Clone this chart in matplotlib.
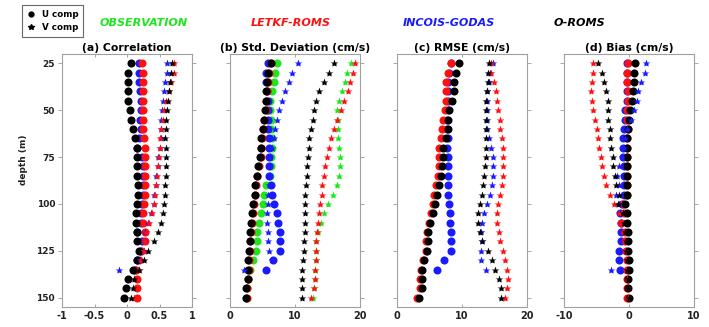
import matplotlib
matplotlib.use("Agg")
import matplotlib.pyplot as plt
from matplotlib.lines import Line2D

depth = list(range(25, 155, 5))          # 26 levels, 25-150 m
depth_godas = list(range(25, 140, 5))    # INCOIS-GODAS stops at 135 m

# (a) correlation
corr_u_letkf = [0.23, 0.24, 0.25, 0.24, 0.24, 0.24, 0.24, 0.24, 0.26, 0.28, 0.28, 0.28, 0.27,
                0.27, 0.27, 0.26, 0.25, 0.25, 0.28, 0.28, 0.21, 0.18, 0.14, 0.15, 0.15, 0.15]
corr_u_godas = [0.18, 0.19, 0.19, 0.20, 0.21, 0.21, 0.20, 0.21, 0.19, 0.16, 0.23, 0.24,
                0.24, 0.24, 0.24, 0.23, 0.22, 0.22, 0.15, 0.23, 0.22, 0.15, 0.12]
corr_u_oroms = [0.06, 0.02, 0.01, 0.01, 0.02, 0.04, 0.06, 0.09, 0.12, 0.15, 0.16, 0.16, 0.16,
                0.17, 0.17, 0.16, 0.14, 0.14, 0.16, 0.16, 0.18, 0.16, 0.09, 0.02, -0.01, -0.05]
corr_v_letkf = [0.73, 0.73, 0.68, 0.65, 0.60, 0.57, 0.56, 0.53, 0.51, 0.51, 0.49, 0.47, 0.46,
                0.45, 0.43, 0.42, 0.38, 0.34, 0.29, 0.28, 0.26, 0.21, 0.18, 0.13, 0.12, 0.11]
corr_v_godas = [0.62, 0.62, 0.59, 0.57, 0.56, 0.54, 0.53, 0.52, 0.52, 0.50, 0.48, 0.47,
                0.45, 0.44, 0.42, 0.41, 0.37, 0.33, 0.28, 0.27, 0.26, 0.20, -0.12]
corr_v_oroms = [0.69, 0.68, 0.66, 0.64, 0.63, 0.61, 0.60, 0.60, 0.59, 0.60, 0.60, 0.60, 0.60,
                0.59, 0.59, 0.57, 0.55, 0.52, 0.47, 0.42, 0.33, 0.26, 0.19, 0.11, 0.09, 0.06]

# (b) standard deviation (cm/s)
std_u_obs = [7.3, 6.9, 6.8, 6.4, 6.1, 6.2, 6.3, 6.3, 6.4, 6.4, 6.3, 6.3, 6.2,
             5.5, 5.2, 5.1, 4.8, 4.5, 4.2, 4.1, 4.0, 3.5, 3.1, 2.7, 2.6, 2.4]
std_u_letkf = [6.3, 6.0, 5.8, 5.7, 5.6, 5.5, 5.3, 5.1, 4.9, 4.8, 4.7, 4.4, 4.2,
               4.0, 3.9, 3.7, 3.5, 3.4, 3.2, 3.1, 3.0, 2.9, 2.9, 2.8, 2.6, 2.6]
std_u_godas = [5.9, 5.6, 5.6, 5.7, 5.8, 5.9, 5.9, 5.9, 6.0, 6.0, 6.0, 6.0,
               6.0, 6.25, 6.4, 6.8, 7.2, 7.4, 7.7, 7.7, 7.7, 6.6, 5.5]
std_u_oroms = [6.25, 5.9, 5.7, 5.6, 5.5, 5.4, 5.2, 5.0, 4.8, 4.7, 4.6, 4.3, 4.1,
               3.9, 3.8, 3.6, 3.4, 3.3, 3.1, 3.0, 2.9, 2.8, 2.8, 2.7, 2.5, 2.5]
std_v_obs = [18.6, 18.0, 17.7, 17.2, 16.7, 16.5, 16.6, 16.6, 16.6, 16.7, 16.9, 16.9, 16.8,
             16.4, 15.8, 15.1, 14.5, 14.0, 13.5, 13.3, 13.2, 13.2, 13.0, 13.0, 12.9, 12.8]
std_v_letkf = [19.2, 18.9, 18.5, 18.1, 17.6, 17.1, 16.5, 16.0, 15.5, 15.3, 14.9, 14.6, 14.5,
               14.2, 14.1, 13.9, 13.7, 13.6, 13.4, 13.3, 13.2, 13.2, 13.0, 13.0, 12.9, 12.5]
std_v_godas = [10.5, 9.5, 9.0, 8.5, 8.0, 7.6, 7.2, 6.9, 6.7, 6.4, 6.2, 6.1,
               6.0, 6.0, 5.9, 5.9, 5.7, 5.7, 5.8, 5.9, 6.0, 6.4, 2.1]
std_v_oroms = [16.0, 15.3, 14.5, 13.7, 13.2, 12.9, 12.7, 12.4, 12.2, 12.1, 12.0, 11.9, 11.8,
               11.7, 11.6, 11.6, 11.5, 11.5, 11.5, 11.35, 11.35, 11.25, 11.1, 11.1, 11.1, 11.0]

# (c) RMSE (cm/s)
rmse_u_letkf = [8.3, 7.8, 7.5, 7.6, 7.6, 7.4, 7.1, 6.9, 6.8, 6.5, 6.4, 6.4, 6.3,
                6.0, 5.7, 5.5, 5.2, 4.9, 4.6, 4.5, 4.4, 4.0, 3.7, 3.6, 3.5, 3.1]
rmse_u_godas = [8.3, 8.0, 7.9, 7.8, 7.8, 7.8, 7.7, 7.7, 7.8, 7.7, 7.8, 7.8,
                7.8, 7.8, 7.8, 8.0, 8.15, 8.15, 8.3, 8.3, 8.3, 7.2, 6.2]
rmse_u_oroms = [9.6, 9.1, 8.8, 8.7, 8.4, 8.05, 7.9, 7.8, 7.5, 7.1, 7.0, 6.9, 6.8,
                6.5, 6.2, 5.85, 5.6, 5.1, 4.8, 4.7, 4.6, 4.2, 3.9, 3.8, 3.8, 3.4]
rmse_v_letkf = [14.4, 14.5, 14.9, 15.2, 15.4, 15.6, 15.8, 15.9, 16.1, 16.3, 16.3, 16.3, 16.3,
                16.1, 15.9, 15.6, 15.4, 15.4, 15.7, 15.8, 16.3, 16.6, 16.9, 17.0, 16.9, 16.6]
rmse_v_godas = [14.7, 14.3, 14.2, 13.9, 13.9, 13.9, 13.9, 13.9, 14.2, 14.5, 14.7, 14.8,
                14.8, 14.6, 14.3, 13.8, 13.4, 13.1, 12.9, 13.0, 12.9, 12.9, 13.7]
rmse_v_oroms = [14.2, 14.05, 14.05, 13.8, 13.7, 13.7, 13.7, 13.7, 13.7, 13.7, 13.7, 13.5, 13.4,
                13.2, 13.0, 12.8, 12.4, 12.4, 12.8, 13.1, 14.0, 14.6, 15.1, 15.7, 16.0, 16.0]

# (d) bias (cm/s)
bias_u_letkf = [-0.1, -0.25, -0.25, -0.1, -0.1, -0.35, -0.25, -0.2, -0.25, -0.25, -0.3, -0.3, -0.3,
                -0.3, -0.3, -0.9, -0.8, -1.2, -0.6, -0.6, -0.45, -0.25, -0.25, -0.25, -0.25, -0.25]
bias_u_godas = [-0.3, -0.3, -0.3, -0.3, -0.3, -0.6, -0.6, -0.7, -0.9, -0.9, -0.9, -0.8,
                -0.8, -0.8, -0.8, -1.1, -1.4, -1.2, -1.2, -1.2, -1.5, -1.5, -1.4]
bias_u_oroms = [0.9, 0.7, 0.7, 0.55, 0.4, 0.15, 0.05, -0.1, -0.25, -0.25, -0.25, -0.25, -0.25,
                -0.25, -0.25, -0.6, -0.25, -0.25, -0.1, -0.1, -0.1, 0.05, 0.05, -0.1, -0.1, 0.0]
bias_v_letkf = [-5.5, -5.5, -5.7, -5.8, -5.7, -5.5, -5.2, -4.9, -4.8, -4.6, -4.3, -4.2, -3.9,
                -3.5, -2.9, -2.3, -1.6, -1.2, -1.0, -0.8, -0.6, -0.5, -0.4, -0.3, -0.2, -0.1]
bias_v_godas = [2.6, 2.4, 1.9, 1.4, 1.2, 0.7, 0.25, -0.3, -0.6, -0.8, -1.1, -1.6,
                -1.9, -1.5, -2.0, -1.6, -1.4, -1.3, -1.2, -1.2, -1.4, -1.5, -2.8]
bias_v_oroms = [-4.8, -4.2, -3.8, -3.5, -3.3, -3.2, -3.2, -3.0, -2.9, -2.8, -2.5, -2.4, -2.2,
                -2.0, -1.6, -1.7, -1.0, -0.8, -0.6, -0.5, -0.4, -0.3, -0.3, -0.2, -0.1, 0.0]

titles = ["(a) Correlation", "(b) Std. Deviation (cm/s)", "(c) RMSE (cm/s)", "(d) Bias (cm/s)"]
xlims = [(-1, 1), (0, 20), (0, 20), (-10, 10)]
xticks = [[-1, -0.5, 0, 0.5, 1], [0, 10, 20], [0, 10, 20], [-10, 0, 10]]
xticklabels = [["-1", "-0.5", "0", "0.5", "1"], ["0", "10", "20"], ["0", "10", "20"], ["-10", "0", "10"]]

GREEN, RED, BLUE, BLACK = "#1ee61e", "#ff1010", "#1a1aff", "#000000"

# per panel: (obs, letkf, godas, oroms) for U and V
panels = [
    ((None, corr_u_letkf, corr_u_godas, corr_u_oroms), (None, corr_v_letkf, corr_v_godas, corr_v_oroms)),
    ((std_u_obs, std_u_letkf, std_u_godas, std_u_oroms), (std_v_obs, std_v_letkf, std_v_godas, std_v_oroms)),
    ((None, rmse_u_letkf, rmse_u_godas, rmse_u_oroms), (None, rmse_v_letkf, rmse_v_godas, rmse_v_oroms)),
    ((None, bias_u_letkf, bias_u_godas, bias_u_oroms), (None, bias_v_letkf, bias_v_godas, bias_v_oroms)),
]

W, H = 709, 327
fig = plt.figure(figsize=(W / 100, H / 100), dpi=100)
lefts = [62, 230, 397, 564]
bot, top = 307, 54
draw_order = [(0, GREEN), (2, BLUE), (1, RED), (3, BLACK)]

for i, (uset, vset) in enumerate(panels):
    ax = fig.add_axes([lefts[i] / W, 1 - bot / H, 130 / W, (bot - top) / H])
    for k, col in draw_order:
        vals = uset[k]
        if vals is not None:
            ax.plot(vals, depth[:len(vals)], "o", ms=5.8, color=col, mec="none", zorder=2)
    for k, col in draw_order:
        vals = vset[k]
        if vals is not None:
            ax.plot(vals, depth[:len(vals)], "*", ms=6, color=col, mec="none", zorder=3)
    ax.set_xlim(*xlims[i])
    ax.set_ylim(155, 20)
    ax.set_xticks(xticks[i])
    ax.set_xticklabels(xticklabels[i], fontsize=7, fontweight="bold", color="#222222")
    ax.set_yticks([25, 50, 75, 100, 125, 150])
    if i == 0:
        ax.set_yticklabels(["25", "50", "75", "100", "125", "150"], fontsize=6.5,
                           fontweight="bold", color="#222222")
    else:
        ax.set_yticklabels([])
    ax.tick_params(axis="y", direction="out", length=3, width=0.6, color="#999999",
                   left=True, right=True, pad=2)
    ax.tick_params(axis="x", direction="in", length=2.5, width=0.6, color="#999999",
                   top=True, bottom=True, pad=3)
    for sp in ax.spines.values():
        sp.set_color("#a0a0a0")
        sp.set_linewidth(0.8)
    ax.set_title(titles[i], fontsize=7.8, fontweight="bold", pad=2.5)

fig.text(24 / W, 1 - 160 / H, "depth (m)", rotation=90, fontsize=6.5, fontweight="bold",
         ha="center", va="center", color="#222222")

header = [("OBSERVATION", GREEN, 144), ("LETKF-ROMS", RED, 291),
          ("INCOIS-GODAS", BLUE, 449), ("O-ROMS", BLACK, 579)]
for txt, col, xc in header:
    fig.text(xc / W, 1 - 23 / H, txt, color=col, fontsize=8, fontweight="bold",
             style="italic", ha="center", va="center")

handles = [Line2D([], [], ls="none", marker="o", ms=3.5, color="black"),
           Line2D([], [], ls="none", marker="*", ms=4, color="black")]
leg = fig.legend(handles, ["U comp", "V comp"], loc="upper left",
                 bbox_to_anchor=(22 / W, 1 - 5 / H), fancybox=False, frameon=True,
                 prop={"size": 6.3, "weight": "bold"}, handlelength=1.0, handletextpad=0.7,
                 borderpad=0.55, labelspacing=0.45, borderaxespad=0)
leg.get_frame().set_edgecolor("#444444")
leg.get_frame().set_linewidth(0.8)

fig.savefig("out.png", dpi=100)
